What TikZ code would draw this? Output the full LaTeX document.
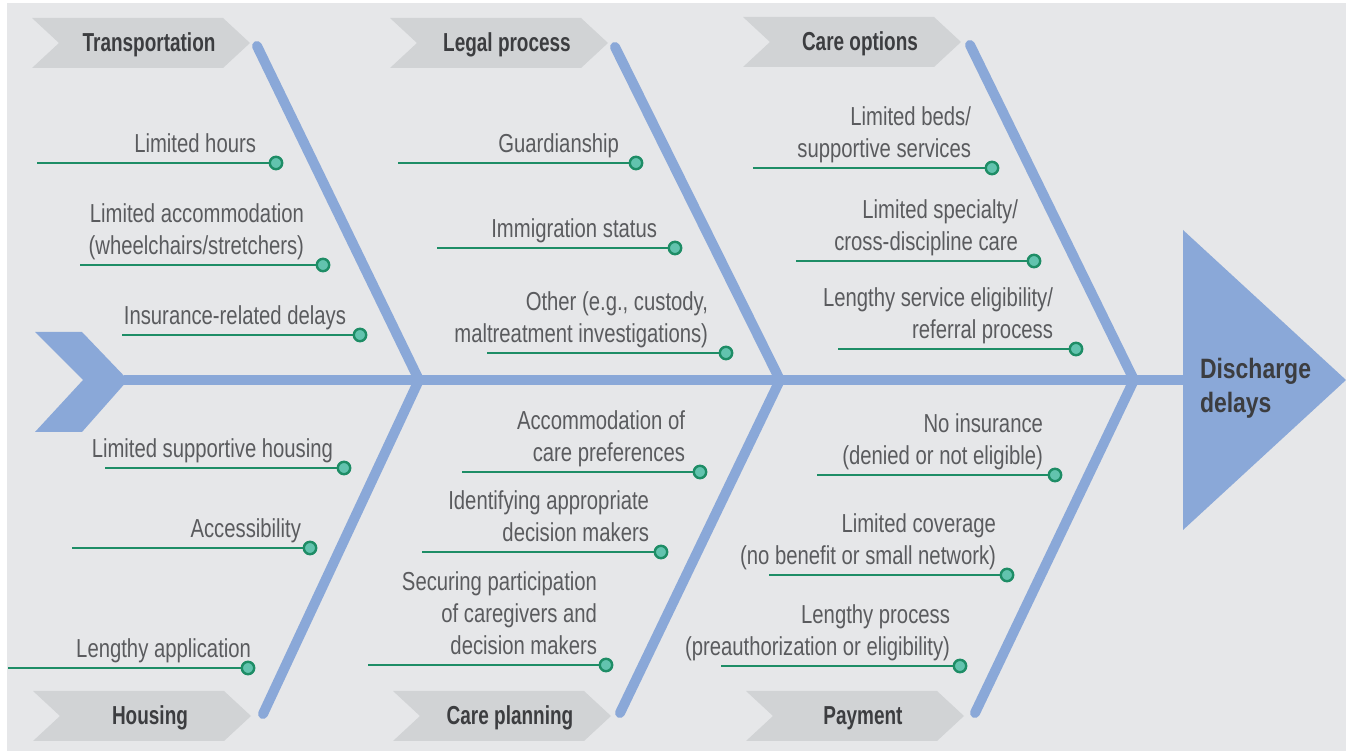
\documentclass[tikz,border=0pt]{standalone}
\usepackage{fontspec}
\setmainfont{Liberation Sans}
\newfontfamily\fishfont[FakeStretch=0.78]{Liberation Sans}
\newfontfamily\tagfont[FakeStretch=0.73]{Liberation Sans}
\newfontfamily\effectfont[FakeStretch=0.82]{Liberation Sans}
\definecolor{fishBg}{HTML}{E6E7E9}
\definecolor{fishTag}{HTML}{D1D3D5}
\definecolor{fishBlue}{HTML}{8AA8D8}
\definecolor{fishGreen}{HTML}{1E8D66}
\definecolor{fishDot}{HTML}{62C3AE}
\definecolor{fishText}{HTML}{5A5B5E}
\definecolor{fishInk}{HTML}{3C3D40}
\tikzset{
  fish diagram/.style={
    x=0.5pt, y=-0.5pt,
    every node/.style={inner sep=0pt, outer sep=0pt}
  },
  fish bone/.style={draw=fishBlue, line width=5pt, line cap=round, line join=round},
  fish spine/.style={draw=fishBlue, line width=5pt},
  fish tag/.style={fill=fishTag},
  tag text/.style={font=\tagfont\bfseries\fontsize{13}{16}\selectfont,
    text=fishInk, anchor=base},
  cause line/.style={draw=fishGreen, line width=1.2pt},
  cause dot/.style={circle, draw=fishGreen, fill=fishDot, line width=1.2pt,
    minimum size=6.2pt},
  cause text/.style={font=\fishfont\fontsize{13}{16}\selectfont,
    text=fishText, align=right, anchor=south east}
}
% name, line start x, dot x, y, text right x, text
\newcommand{\FishCause}[6]{%
  \coordinate (#1-start) at (#2,#4);
  \node[cause dot] (#1-dot) at (#3,#4) {};
  \draw[cause line] (#1-start) -- (#1-dot);
  \node[cause text] (#1) at (#5,#4-1) {#6\strut};
}
% name, left x, middle y, label
\newcommand{\FishTag}[4]{%
  \fill[fish tag] (#2,#3-25) -- ++(191,0) -- ++(27,25) -- ++(-27,25)
    -- ++(-191,0) -- ++(27,-25) -- cycle;
  \node[tag text] (#1) at (#2+117,#3+9) {#4};
}

\begin{document}
\begin{tikzpicture}[fish diagram]
    \useasboundingbox (0,0) rectangle (1346,753);
    \fill[fishBg] (7,3) rectangle (1346,751);

    \FishTag{trans}{32}{43}{Transportation}
    \FishTag{legal}{390}{43}{Legal process}
    \FishTag{options}{743}{42}{Care options}
    \FishTag{housing}{33}{716}{Housing}
    \FishTag{planning}{393}{716}{Care planning}
    \FishTag{payment}{746}{716}{Payment}

    % bones
    \coordinate (tTrans) at (257,46);
    \coordinate (tLegal) at (615,47);
    \coordinate (tOptions) at (970,45);
    \coordinate (jLeft) at (419,380);
    \coordinate (jMid) at (780,380);
    \coordinate (jRight) at (1134,380);
    \coordinate (bHousing) at (263,714);
    \coordinate (bPlanning) at (620,713);
    \coordinate (bPayment) at (975,713);
    \draw[fish bone] (tTrans) -- (jLeft) -- (bHousing);
    \draw[fish bone] (tLegal) -- (jMid) -- (bPlanning);
    \draw[fish bone] (tOptions) -- (jRight) -- (bPayment);

    % spine, tail and head
    \coordinate (tail) at (124,380);
    \coordinate (head) at (1186,380);
    \draw[fish spine] (tail) -- (head);
    \fill[fishBlue] (35,332) -- (82,332) -- (128,380) -- (82,432)
      -- (35,432) -- (83,380) -- cycle;
    \fill[fishBlue] (1183,230) -- (1346,380) -- (1183,530) -- cycle;
    \node[font=\effectfont\bfseries\fontsize{14}{17}\selectfont, text=fishInk,
      align=left, anchor=west] (effect) at (1200,388) {Discharge\\delays};

    % transportation
    \FishCause{hours}{37}{276}{163}{256}{Limited hours}
    \FishCause{accom}{80}{323}{265}{304}{Limited accommodation\\(wheelchairs/stretchers)}
    \FishCause{insur}{122}{360}{335}{346}{Insurance-related delays}
    % housing
    \FishCause{suppH}{105}{344}{468}{333}{Limited supportive housing}
    \FishCause{access}{72}{310}{548}{301}{Accessibility}
    \FishCause{appl}{8}{248}{668}{251}{Lengthy application}
    % legal process
    \FishCause{guard}{398}{636}{163}{619}{Guardianship}
    \FishCause{immig}{437}{675}{248}{657}{Immigration status}
    \FishCause{other}{487}{726}{353}{708}{Other (e.g., custody,\\maltreatment investigations)}
    % care planning
    \FishCause{prefs}{462}{700}{472}{685}{Accommodation of\\care preferences}
    \FishCause{ident}{422}{661}{552}{649}{Identifying appropriate\\decision makers}
    \FishCause{secur}{368}{606}{665}{597}{Securing participation\\of caregivers and\\decision makers}
    % care options
    \FishCause{beds}{753}{992}{168}{971}{Limited beds/\\supportive services}
    \FishCause{spec}{796}{1034}{261}{1018}{Limited specialty/\\cross-discipline care}
    \FishCause{elig}{838}{1076}{349}{1053}{Lengthy service eligibility/\\referral process}
    % payment
    \FishCause{noins}{817}{1055}{475}{1043}{No insurance\\(denied or not eligible)}
    \FishCause{cover}{769}{1007}{575}{996}{Limited coverage\\(no benefit or small network)}
    \FishCause{proc}{721}{960}{666}{950}{Lengthy process\\(preauthorization or eligibility)}
  \end{tikzpicture}
\end{document}
